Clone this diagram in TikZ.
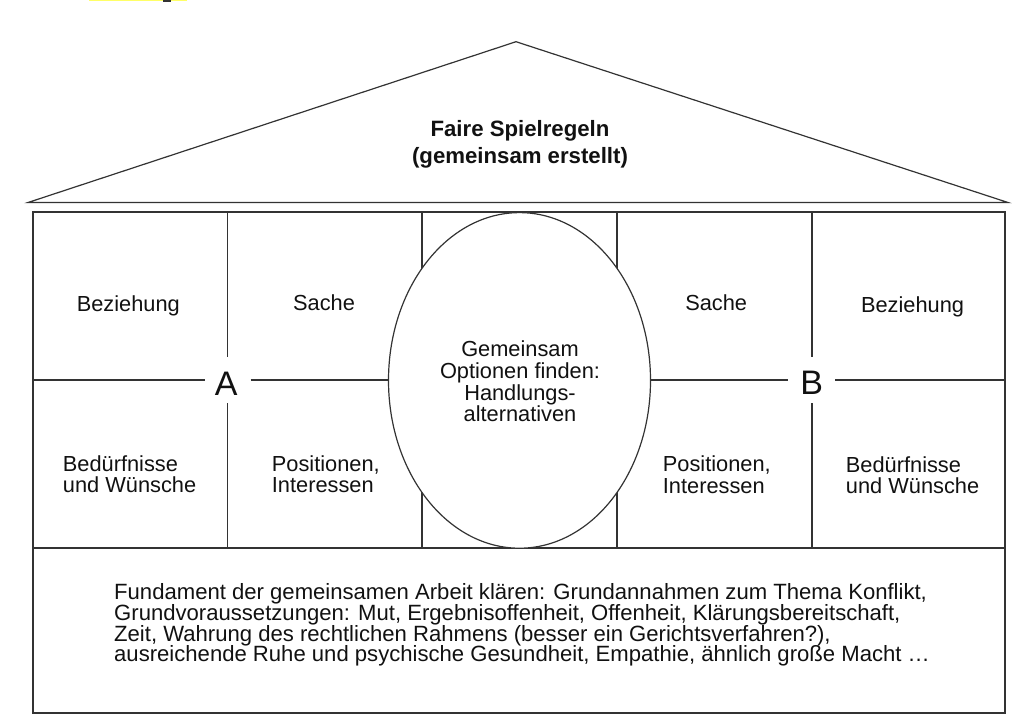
\documentclass[tikz,border=0pt]{standalone}
\usepackage{fontspec}
\setmainfont{Liberation Sans}
\begin{document}
\begin{tikzpicture}[x=1pt,y=-1pt,
  ln/.style={draw=lineC,line width=1.2pt},
  txt/.style={inner sep=0pt,text=textC,font=\fontsize{21.8}{21.8}\selectfont},
  ptxt/.style={inner sep=0pt,text=textC,font=\fontsize{22.1}{22.1}\selectfont},
  ttl/.style={inner sep=0pt,text=textC,font=\fontsize{22.2}{22.2}\selectfont\bfseries},
  big/.style={inner sep=0pt,text=textC,font=\fontsize{34}{34}\selectfont}]
\definecolor{lineC}{HTML}{333333}
\definecolor{textC}{HTML}{111111}
\definecolor{hl}{HTML}{FFFF66}
\useasboundingbox (0,0) rectangle (1024,724);
% cut-off highlight at the top
\fill[hl] (89,0) rectangle (187,1.4);
\fill[lineC] (163.3,0) rectangle (170.7,1.7);
% roof
\coordinate (rl) at (28,202.5);
\coordinate (rt) at (516,41.7);
\coordinate (rr) at (1008,202.5);
\draw[ln,line join=miter] (rl) -- (rt) -- (rr) -- cycle;
% house body
\draw[ln] (33,212) rectangle (1005,713);
\draw[ln] (33,548) -- (1005,548);
% inner columns
\draw[ln] (422,212) -- (422,548);
\draw[ln] (617,212) -- (617,548);
\draw[ln] (227.5,212) -- (227.5,357);
\draw[ln] (227.5,403) -- (227.5,548);
\draw[ln] (812,212) -- (812,357);
\draw[ln] (812,403) -- (812,548);
% middle line
\draw[ln] (33,380) -- (205,380);
\draw[ln] (250.7,380) -- (422,380);
\draw[ln] (617,380) -- (788.3,380);
\draw[ln] (835,380) -- (1005,380);
% ellipse
\draw[ln,fill=white] (519.5,380.4) ellipse [x radius=131pt, y radius=167.8pt];
% letters A and B
\node[big,anchor=base] (A) at (226.3,395) {A};
\node[big,anchor=base] (B) at (811.7,394) {B};
% roof text
\node[ttl,anchor=base] (t1) at (520,136) {Faire Spielregeln};
\node[ttl,anchor=base] (t2) at (520,163.3) {(gemeinsam erstellt)};
% upper row
\node[txt,anchor=base] (bzl) at (128.3,311) {Beziehung};
\node[txt,anchor=base] (sal) at (324,310.7) {Sache};
\node[txt,anchor=base] (sar) at (716.2,310.7) {Sache};
\node[txt,anchor=base] (bzr) at (912.5,312.7) {Beziehung};
% ellipse text
\node[txt,anchor=base] (e1) at (520,356.7) {Gemeinsam};
\node[txt,anchor=base] (e2) at (520,378.2) {Optionen finden:};
\node[txt,anchor=base] (e3) at (520,400) {Handlungs-};
\node[txt,anchor=base] (e4) at (520,421.7) {alternativen};
% lower row
\node[txt,anchor=base west] (bl1) at (62.7,471) {Bedürfnisse};
\node[txt,anchor=base west] (bl2) at (62.7,492.7) {und Wünsche};
\node[txt,anchor=base west] (pl1) at (271.7,471) {Positionen,};
\node[txt,anchor=base west] (pl2) at (271.7,492.7) {Interessen};
\node[txt,anchor=base west] (pr1) at (662.7,471.7) {Positionen,};
\node[txt,anchor=base west] (pr2) at (662.7,493.3) {Interessen};
\node[txt,anchor=base west] (br1) at (845.7,472.3) {Bedürfnisse};
\node[txt,anchor=base west] (br2) at (845.7,493.3) {und Wünsche};
% foundation text
\node[ptxt,anchor=base west] (f1) at (114,599.3) {Fundament der gemeinsamen Arbeit klären: Grundannahmen zum Thema Konflikt,};
\node[ptxt,anchor=base west] (f2) at (114,620.7) {Grundvoraussetzungen: Mut, Ergebnisoffenheit, Offenheit, Klärungsbereitschaft,};
\node[ptxt,anchor=base west] (f3) at (114,641.7) {Zeit, Wahrung des rechtlichen Rahmens (besser ein Gerichtsverfahren?),};
\node[ptxt,anchor=base west] (f4) at (114,661.7) {ausreichende Ruhe und psychische Gesundheit, Empathie, ähnlich große Macht …};
\end{tikzpicture}
\end{document}
